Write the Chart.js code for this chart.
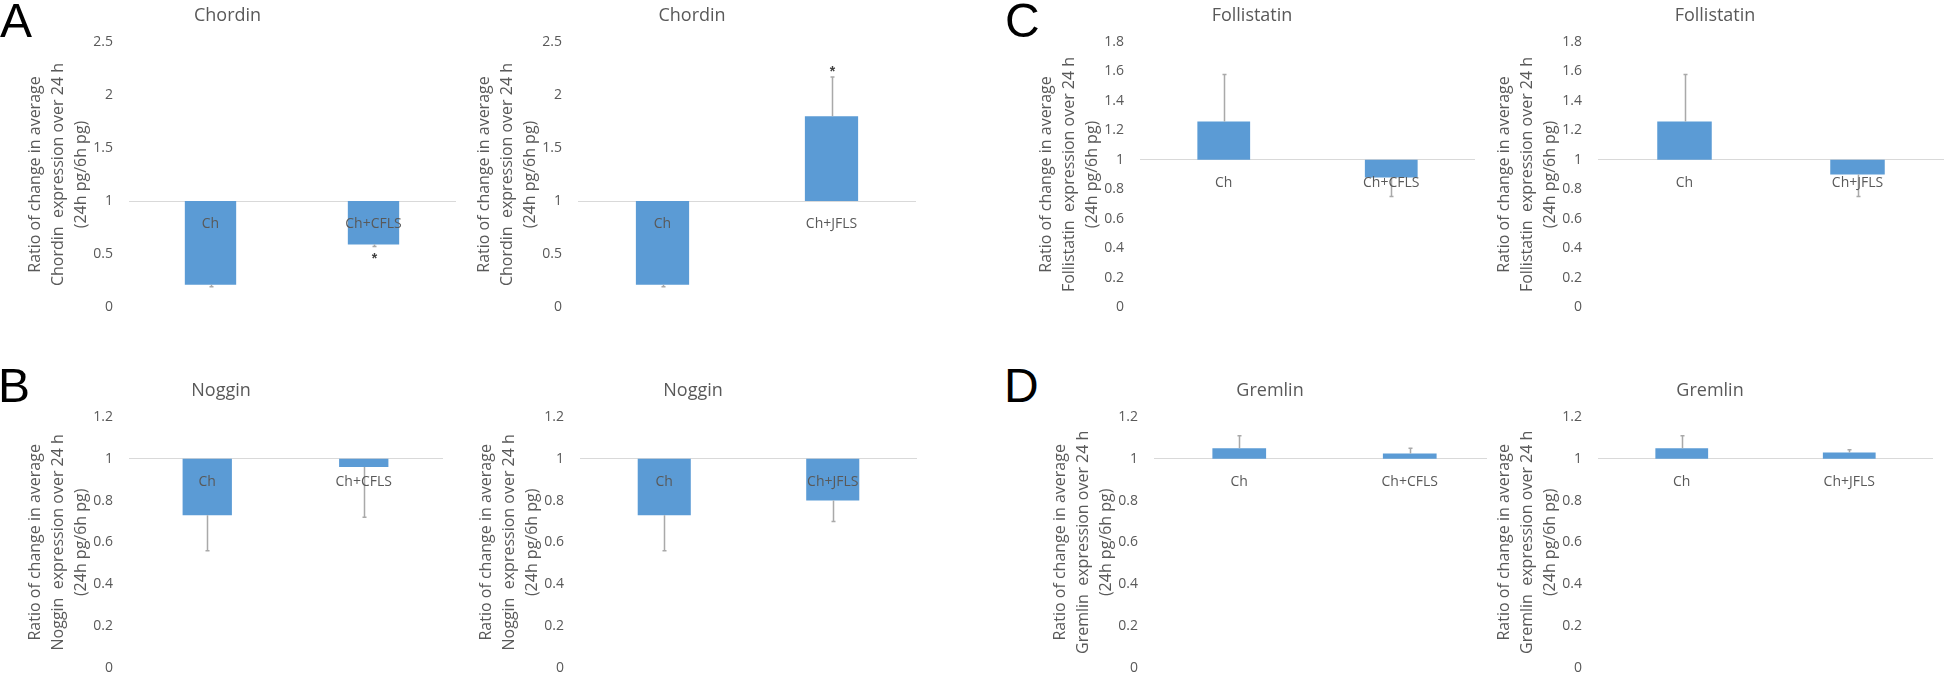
<!DOCTYPE html>
<html><head><meta charset="utf-8">
<script src="https://cdn.jsdelivr.net/npm/chart.js@4.4.1/dist/chart.umd.min.js"></script>
<style>
html,body{margin:0;padding:0;background:#fff;width:1946px;height:692px;overflow:hidden}
body{position:relative}
canvas.panel{position:absolute;background:#fff;z-index:1}
.letter{position:absolute;z-index:10;font-family:'Liberation Sans',Arial,sans-serif;font-size:48px;line-height:48px;color:#000;white-space:nowrap}
</style></head><body>
<div class="letter" style="left:0px;top:-3px">A</div>
<div class="letter" style="left:-2px;top:362px">B</div>
<div class="letter" style="left:1005px;top:-3px">C</div>
<div class="letter" style="left:1004px;top:362px">D</div>
<script>
// ---- data ----
const categoriesCFLS = ['Ch', 'Ch+CFLS'];
const categoriesJFLS = ['Ch', 'Ch+JFLS'];

const chordinCFLS = [0.21, 0.59];
const chordinCFLSErr = [0.19, 0.57];
const chordinCFLSStars = ['', '*'];
const chordinJFLS = [0.21, 1.80];
const chordinJFLSErr = [0.19, 2.17];
const chordinJFLSStars = ['', '*'];

const follistatinCFLS = [1.26, 0.88];
const follistatinCFLSErr = [1.58, 0.75];
const follistatinJFLS = [1.26, 0.90];
const follistatinJFLSErr = [1.58, 0.75];

const nogginCFLS = [0.73, 0.96];
const nogginCFLSErr = [0.56, 0.72];
const nogginJFLS = [0.73, 0.80];
const nogginJFLSErr = [0.56, 0.70];

const gremlinCFLS = [1.05, 1.025];
const gremlinCFLSErr = [1.11, 1.05];
const gremlinJFLS = [1.05, 1.03];
const gremlinJFLSErr = [1.11, 1.043];

const noStars = ['', ''];
const baseline = 1;

const chordinTicks = {min: 0, max: 2.5, step: 0.5};
const follistatinTicks = {min: 0, max: 1.8, step: 0.2};
const nogginTicks = {min: 0, max: 1.2, step: 0.2};
const gremlinTicks = {min: 0, max: 1.2, step: 0.2};

const axisTitle = (name) => ['Ratio of change in average', name + '  expression over 24 h', '(24h pg/6h pg)'];

// ---- layout ----
const rowTop = {top: 0, height: 335, titlePadTop: 5.2, titlePadBottom: 15.2, padBottom: 28};
const rowBottom = {top: 340, height: 352, titlePadTop: 40.2, titlePadBottom: 15.2, padBottom: 9};

const panels = [
  {title: 'Chordin', cats: categoriesCFLS, vals: chordinCFLS, errs: chordinCFLSErr, stars: chordinCFLSStars, ticks: chordinTicks, row: rowTop, cl: 0, cr: 474, L: 129, padRight: 19},
  {title: 'Chordin', cats: categoriesJFLS, vals: chordinJFLS, errs: chordinJFLSErr, stars: chordinJFLSStars, ticks: chordinTicks, row: rowTop, cl: 468, cr: 916, L: 578, padRight: 0},
  {title: 'Follistatin', cats: categoriesCFLS, vals: follistatinCFLS, errs: follistatinCFLSErr, stars: noStars, ticks: follistatinTicks, row: rowTop, cl: 1029, cr: 1475, L: 1140, padRight: 0},
  {title: 'Follistatin', cats: categoriesJFLS, vals: follistatinJFLS, errs: follistatinJFLSErr, stars: noStars, ticks: follistatinTicks, row: rowTop, cl: 1486, cr: 1944, L: 1598, padRight: 0},
  {title: 'Noggin', cats: categoriesCFLS, vals: nogginCFLS, errs: nogginCFLSErr, stars: noStars, ticks: nogginTicks, row: rowBottom, cl: 0, cr: 460, L: 129, padRight: 18},
  {title: 'Noggin', cats: categoriesJFLS, vals: nogginJFLS, errs: nogginJFLSErr, stars: noStars, ticks: nogginTicks, row: rowBottom, cl: 469, cr: 917, L: 580, padRight: 0},
  {title: 'Gremlin', cats: categoriesCFLS, vals: gremlinCFLS, errs: gremlinCFLSErr, stars: noStars, ticks: gremlinTicks, row: rowBottom, cl: 1045, cr: 1495, L: 1154, padRight: 0},
  {title: 'Gremlin', cats: categoriesJFLS, vals: gremlinJFLS, errs: gremlinJFLSErr, stars: noStars, ticks: gremlinTicks, row: rowBottom, cl: 1487, cr: 1933, L: 1598, padRight: 0}
];

const TEXT = '#595959';
const FONT = "'Open Sans', 'Noto Sans', sans-serif";

const errorBarPlugin = {
  id: 'errorBars',
  afterDatasetsDraw(chart) {
    const ctx = chart.ctx;
    const yScale = chart.scales.y;
    const ds = chart.data.datasets[0];
    const meta = chart.getDatasetMeta(0);
    meta.data.forEach((bar, i) => {
      const v = ds.data[i][1];
      const e = ds.errorValues[i];
      const x = Math.round(bar.x) + 0.5;
      const y1 = yScale.getPixelForValue(v);
      const y2 = yScale.getPixelForValue(e);
      ctx.save();
      ctx.strokeStyle = '#A9A9A9';
      ctx.lineWidth = 1.5;
      ctx.beginPath();
      ctx.moveTo(x, y1); ctx.lineTo(x, y2);
      ctx.moveTo(x - 2, y2); ctx.lineTo(x + 2, y2);
      ctx.stroke();
      const s = ds.starLabels[i];
      if (s) {
        const dir = e >= v ? -1 : 1;
        ctx.fillStyle = '#404040';
        ctx.font = "bold 14px 'Liberation Sans', Arial, sans-serif";
        ctx.textAlign = 'center';
        ctx.textBaseline = 'middle';
        ctx.fillText(s, x, y2 + dir * 9 + 4);
      }
      ctx.restore();
    });
  }
};

panels.forEach((p) => {
  const c = document.createElement('canvas');
  c.className = 'panel';
  const w = p.cr - p.cl;
  c.width = w; c.height = p.row.height;
  c.style.left = p.cl + 'px';
  c.style.top = p.row.top + 'px';
  c.style.width = w + 'px';
  c.style.height = p.row.height + 'px';
  document.body.appendChild(c);
  const yWidth = p.L - p.cl;
  const titleOffset = p.L - 105.5 - p.cl;
  new Chart(c, {
    type: 'bar',
    data: {
      labels: p.cats,
      datasets: [{
        data: p.vals.map(v => [baseline, v]),
        errorValues: p.errs,
        starLabels: p.stars,
        backgroundColor: '#5B9BD5',
        borderWidth: 0,
        barPercentage: 0.315,
        categoryPercentage: 1
      }]
    },
    options: {
      responsive: false,
      devicePixelRatio: 1,
      animation: false,
      events: [],
      layout: {padding: {left: 0, top: 0, right: p.padRight, bottom: p.row.padBottom}},
      plugins: {
        legend: {display: false},
        tooltip: {enabled: false},
        title: {
          display: true,
          text: p.title,
          color: TEXT,
          font: {family: FONT, size: 18, weight: 'normal', lineHeight: 1.2},
          padding: {top: p.row.titlePadTop, bottom: p.row.titlePadBottom}
        }
      },
      scales: {
        x: {
          type: 'category',
          position: {y: baseline},
          offset: true,
          grid: {display: false, drawTicks: false},
          border: {display: true, color: '#D9D9D9', width: 1, z: 0},
          ticks: {color: TEXT, font: {family: FONT, size: 14}, padding: 15, z: 1, maxRotation: 0, autoSkip: false}
        },
        y: {
          type: 'linear',
          position: 'left',
          min: p.ticks.min,
          max: p.ticks.max,
          grid: {display: false, drawTicks: false},
          border: {display: false},
          ticks: {
            stepSize: p.ticks.step, color: TEXT, font: {family: FONT, size: 14}, padding: 16,
            callback: (v) => String(Number(v.toFixed(2)))
          },
          title: {
            display: true,
            text: axisTitle(p.title),
            color: TEXT,
            font: {family: FONT, size: 16, lineHeight: '23px'},
            padding: {top: titleOffset, bottom: 0}
          },
          afterFit(scale) { scale.width = yWidth; }
        }
      }
    },
    plugins: [errorBarPlugin]
  });
});
</script>
</body></html>
